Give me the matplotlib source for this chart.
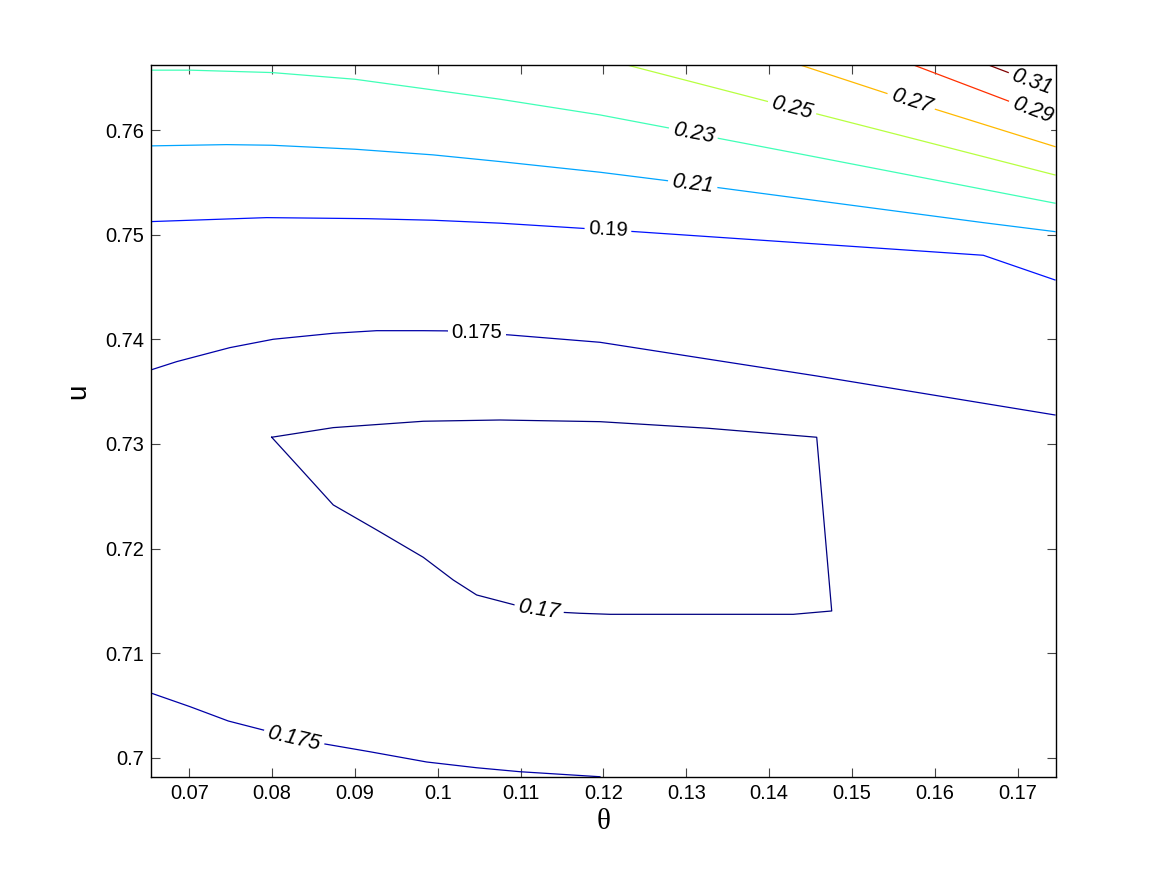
#!/usr/bin/env python3
import matplotlib

matplotlib.use("Agg")
import matplotlib.pyplot as plt
from matplotlib.colors import Normalize

plt.rcParams["font.family"] = ["Liberation Sans", "DejaVu Sans"]

# contour paths (theta, u)
THETA_031 = [0.16645, 0.16907]
U_031 = [0.76624, 0.76545]

THETA_029 = [0.15740, 0.16907]
U_029 = [0.76624, 0.76273]

THETA_027 = [0.14372, 0.15438, 0.16002, 0.17450]
U_027 = [0.76624, 0.76347, 0.76201, 0.75843]

THETA_025 = [0.12280, 0.13990, 0.14574, 0.17450]
U_025 = [0.76624, 0.76273, 0.76156, 0.75572]

THETA_023 = [0.06538, 0.07009, 0.07998, 0.09000, 0.09942, 0.10751,
             0.11958, 0.12803, 0.13382, 0.14372, 0.17450]
U_023 = [0.76574, 0.76574, 0.76551, 0.76487, 0.76385, 0.76296,
         0.76146, 0.76019, 0.75923, 0.75773, 0.75302]

THETA_021 = [0.06538, 0.07452, 0.07998, 0.09000, 0.09942, 0.10751,
             0.11958, 0.12763, 0.13382, 0.16585, 0.17450]
U_021 = [0.75850, 0.75862, 0.75856, 0.75818, 0.75764, 0.75700,
         0.75598, 0.75518, 0.75451, 0.75116, 0.75030]

THETA_019 = [0.06538, 0.07934, 0.09142, 0.09942, 0.10751, 0.12380,
             0.16585, 0.17450]
U_019 = [0.75126, 0.75164, 0.75154, 0.75139, 0.75111, 0.75030,
         0.74804, 0.74568]

THETA_0175_TOP = [0.06538, 0.06848, 0.07491, 0.08014, 0.08738, 0.09262,
                  0.09825, 0.10107, 0.10871, 0.11958, 0.13165, 0.14574,
                  0.17450]
U_0175_TOP = [0.73708, 0.73787, 0.73921, 0.74001, 0.74058, 0.74083,
              0.74083, 0.74081, 0.74042, 0.73972, 0.73823, 0.73650,
              0.73277]

THETA_0175_LOW = [0.06546, 0.07009, 0.07471, 0.07893, 0.08638, 0.09181,
                  0.09866, 0.10469, 0.10992, 0.11958]
U_0175_LOW = [0.70616, 0.70488, 0.70351, 0.70265, 0.70131, 0.70057,
              0.69959, 0.69904, 0.69866, 0.69818]

THETA_017 = [0.07995, 0.08738, 0.09825, 0.10751, 0.11958, 0.13262,
             0.14574, 0.14755, 0.14291, 0.12079, 0.11716, 0.11475,
             0.10932, 0.10469, 0.10187, 0.09825, 0.09262, 0.08738,
             0.08336, 0.07995]
U_017 = [0.73064, 0.73156, 0.73217, 0.73229, 0.73213, 0.73150,
         0.73064, 0.71403, 0.71371, 0.71371, 0.71381, 0.71391,
         0.71460, 0.71556, 0.71699, 0.71916, 0.72178, 0.72417,
         0.72768, 0.73064]

# inline labels: theta, u, rotation, text
LABEL_THETA = [0.17173, 0.17176, 0.15716, 0.14275, 0.13084, 0.13077,
               0.12054, 0.10469, 0.11221, 0.08264]
LABEL_U = [0.76465, 0.76191, 0.76280, 0.76210, 0.75971, 0.75483,
           0.75046, 0.74061, 0.71412, 0.70186]
LABEL_ROT = [-20, -21, -18, -14.7, -10.5, -7, -3, 0, -8.8, -13]
LABEL_TEXT = ["0.31", "0.29", "0.27", "0.25", "0.23", "0.21", "0.19",
              "0.175", "0.17", "0.175"]

X_TICKS = [0.07, 0.08, 0.09, 0.10, 0.11, 0.12, 0.13, 0.14, 0.15, 0.16, 0.17]
X_TICK_LABELS = ["0.07", "0.08", "0.09", "0.1", "0.11", "0.12", "0.13",
                 "0.14", "0.15", "0.16", "0.17"]
Y_TICKS = [0.70, 0.71, 0.72, 0.73, 0.74, 0.75, 0.76]
Y_TICK_LABELS = ["0.7", "0.71", "0.72", "0.73", "0.74", "0.75", "0.76"]


def main() -> None:
    norm = Normalize(0.17, 0.31)
    cmap = plt.cm.jet

    paths = [
        (0.31, THETA_031, U_031),
        (0.29, THETA_029, U_029),
        (0.27, THETA_027, U_027),
        (0.25, THETA_025, U_025),
        (0.23, THETA_023, U_023),
        (0.21, THETA_021, U_021),
        (0.19, THETA_019, U_019),
        (0.175, THETA_0175_TOP, U_0175_TOP),
        (0.175, THETA_0175_LOW, U_0175_LOW),
        (0.17, THETA_017, U_017),
    ]

    fig = plt.figure(figsize=(11.65, 8.75), dpi=100)
    ax = fig.add_axes([0.1296, 0.1117, 0.7766, 0.8141])

    for level, th, u in paths:
        ax.plot(th, u, color=cmap(norm(level)), lw=0.9, zorder=2)

    for th, u, rot, txt in zip(LABEL_THETA, LABEL_U, LABEL_ROT, LABEL_TEXT):
        slanted = abs(rot) > 5
        ax.text(th, u, txt, rotation=rot, rotation_mode="anchor",
                ha="center", va="center",
                fontsize=15.5 if slanted else 14.6,
                style="italic" if slanted else "normal",
                bbox=dict(boxstyle="square,pad=0.18", fc="white", ec="none"),
                zorder=2.2)

    ax.set_xlim(0.06538, 0.17459)
    ax.set_ylim(0.69813, 0.76624)
    ax.set_xticks(X_TICKS)
    ax.set_xticklabels(X_TICK_LABELS)
    ax.set_yticks(Y_TICKS)
    ax.set_yticklabels(Y_TICK_LABELS)
    ax.tick_params(direction="in", length=6.5, width=0.8, color="#444444",
                   labelsize=14.4, top=True, right=True, pad=5)
    for spine in ax.spines.values():
        spine.set_linewidth(1.0)
        spine.set_zorder(5)

    ax.set_xlabel("θ", fontsize=21, family=["Liberation Serif", "DejaVu Serif"])
    ax.set_ylabel("u", fontsize=20)
    ax.xaxis.set_label_coords(0.5, -0.045)
    ax.yaxis.set_label_coords(-0.066, 0.542)

    fig.savefig("out.png", dpi=100)
    plt.close(fig)


if __name__ == "__main__":
    main()
